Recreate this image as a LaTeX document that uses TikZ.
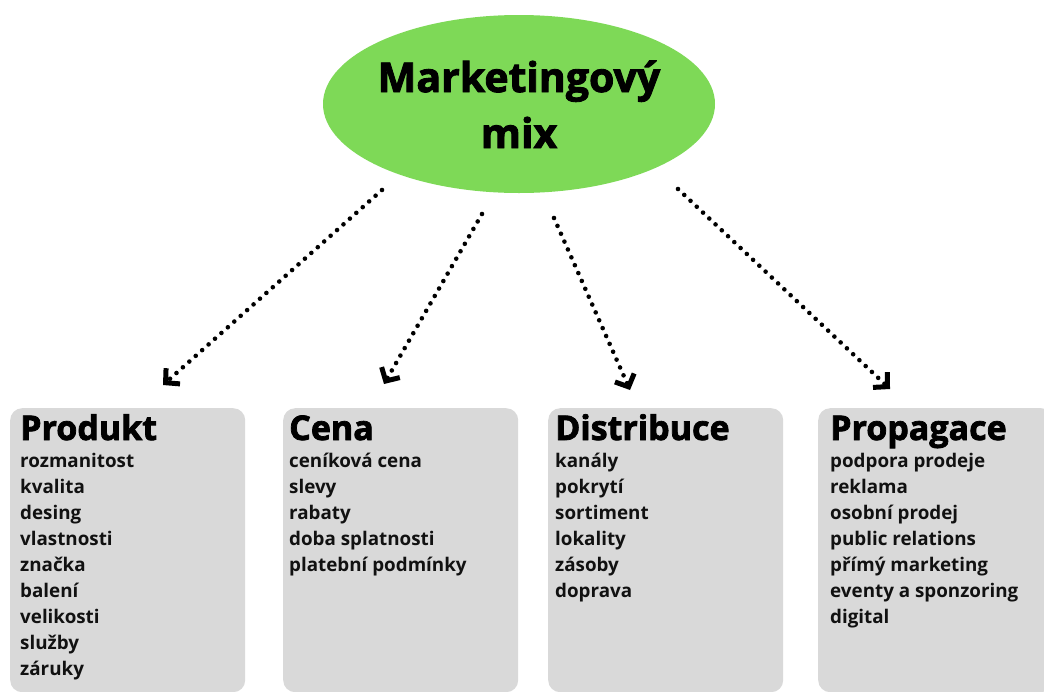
\documentclass[tikz,border=0pt]{standalone}
\usepackage{fontspec}
\setmainfont{Open Sans}
\newfontfamily\heavy{Open Sans}[BoldFeatures={FakeBold=2.2}]
\usetikzlibrary{arrows.meta,shapes.geometric}
\definecolor{mixgreen}{HTML}{7ED957}
\definecolor{boxgray}{HTML}{D9D9D9}
\definecolor{ink}{HTML}{111111}

\begin{document}
\begin{tikzpicture}[x=1pt,y=-1pt,
  hub/.style={ellipse, fill=mixgreen, minimum width=392pt, minimum height=178pt, inner sep=0pt},
  catbox/.style={fill=boxgray, rounded corners=12pt, minimum width=235pt, minimum height=284pt,
    anchor=north west, inner sep=0pt},
  cattitle/.style={anchor=base west, inner sep=0pt, font=\heavy\bfseries\fontsize{34}{36}\selectfont},
  catitem/.style={anchor=base west, inner sep=0pt, text=ink,
    font=\bfseries\fontsize{18.8}{26}\selectfont},
  hubtext/.style={anchor=base, inner sep=0pt, font=\heavy\bfseries\fontsize{41}{48}\selectfont},
  dotarrow/.style={line width=4.6pt, line cap=round, dash pattern=on 0pt off 8.6pt,
    -{Straight Barb[length=10pt,width=21pt,line width=5pt]}}
]
\useasboundingbox (0,0) rectangle (1044,691);
\clip (0,0) rectangle (1044,691);

% central ellipse
\node[hub] (mix) at (519,104) {};
\node[hubtext] (mixA) at (519,92) {Marketingový};
\node[hubtext] (mixB) at (519,148) {mix};

% four category panels
\node[catbox] (prod) at (10,408) {};
\node[catbox] (cena) at (283,408) {};
\node[catbox] (dist) at (548,408) {};
\node[catbox] (prop) at (818,408) {};

% panel headings
\node[cattitle] (prodT) at (20,440) {Produkt};
\node[cattitle] (cenaT) at (289,440) {Cena};
\node[cattitle] (distT) at (555,440) {Distribuce};
\node[cattitle] (propT) at (830,440) {Propagace};

% panel items, one line every 26pt
\foreach \t [count=\i from 0] in {rozmanitost,kvalita,desing,vlastnosti,značka,balení,velikosti,služby,záruky}
  \node[catitem] (prod-\i) at (20,467+26*\i) {\t};
\foreach \t [count=\i from 0] in {ceníková cena,slevy,rabaty,doba splatnosti,platební podmínky}
  \node[catitem] (cena-\i) at (289,467+26*\i) {\t};
\foreach \t [count=\i from 0] in {kanály,pokrytí,sortiment,lokality,zásoby,doprava}
  \node[catitem] (dist-\i) at (555,467+26*\i) {\t};
\foreach \t [count=\i from 0] in {podpora prodeje,reklama,osobní prodej,public relations,přímý marketing,eventy a sponzoring,digital}
  \node[catitem] (prop-\i) at (830,467+26*\i) {\t};

% dotted connectors
\coordinate (s1) at (382,190);
\coordinate (e1) at (163,385);
\coordinate (s2) at (482,214);
\coordinate (e2) at (384,384);
\coordinate (s3) at (554,218);
\coordinate (e3) at (630,390);
\coordinate (s4) at (678,189);
\coordinate (e4) at (890,389);

\draw[dotarrow] (s1) -- (e1);
\draw[dotarrow] (s2) -- (e2);
\draw[dotarrow] (s3) -- (e3);
\draw[dotarrow] (s4) -- (e4);
\end{tikzpicture}
\end{document}
